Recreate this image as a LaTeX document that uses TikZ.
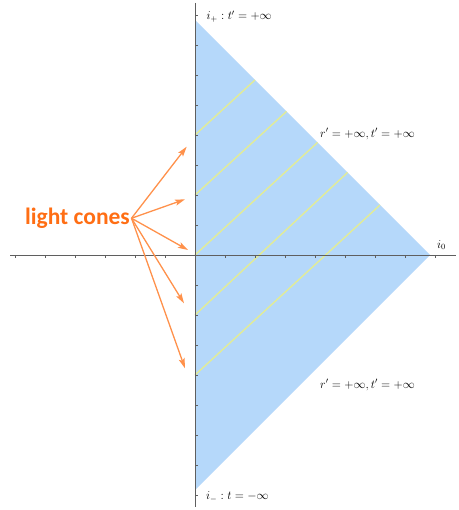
\documentclass[tikz,border=0pt]{standalone}
\usepackage{fontspec}
\newfontfamily\lcfont{Carlito}
\usetikzlibrary{arrows.meta}
\definecolor{cone}{RGB}{181,216,250}
\definecolor{ylw}{RGB}{226,236,150}
\definecolor{axisgray}{RGB}{95,95,95}
\definecolor{lcorange}{RGB}{255,110,20}
\definecolor{arrorange}{RGB}{255,145,75}
\begin{document}
\begin{tikzpicture}[x=1pt,y=-1pt,
  lbl/.style={inner sep=0pt, anchor=west, font=\fontsize{11.5}{14}\selectfont},
  ax/.style={draw=axisgray, line width=0.8pt},
  tk/.style={draw=axisgray, line width=0.6pt},
  yl/.style={draw=ylw, line width=1.4pt},
  lcarrow/.style={draw=arrorange, line width=1.3pt, -{Stealth[length=10pt,width=6pt,inset=2pt]}}]
\useasboundingbox (0,0) rectangle (458,510);
% Penrose triangle
\fill[cone] (195,20) -- (430,255) -- (195,490) -- cycle;
% constant-time lines
\draw[yl] (195,135) -- (255,80);
\draw[yl] (195,195) -- (286.5,111.5);
\draw[yl] (195,255) -- (317.5,142.5);
\draw[yl] (195,315) -- (347.5,172.5);
\draw[yl] (195,375) -- (380,205);
% axes
\draw[ax] (10,255) -- (456,255);
\draw[ax] (195,3) -- (195,507);
\foreach \x in {15,45,...,435} \draw[tk] (\x,255) -- (\x,257.5);
\foreach \y in {15,45,...,495} \draw[tk] (195,\y) -- (197.5,\y);
% labels
\node[lbl] (ip) at (206.5,16.5) {$i_+ : t' = +\infty$};
\node[lbl] (scri1) at (320,134) {$r' = +\infty, t' = +\infty$};
\node[lbl] (scri2) at (320,385) {$r' = +\infty, t' = +\infty$};
\node[lbl] (im) at (206,497) {$i_- : t = -\infty$};
\node[lbl] (i0) at (437,245) {$i_0$};
% light cones
\node[text=lcorange, font=\lcfont\bfseries\fontsize{23.5}{28}\selectfont, anchor=base east, inner sep=0pt] (lc) at (130,224.5) {light cones};
\coordinate (a1) at (186.7,146.7);
\coordinate (a2) at (185,199.3);
\coordinate (a3) at (188,250);
\coordinate (a4) at (184,303.3);
\coordinate (a5) at (185,368.3);
\foreach \t in {a1,a2,a3,a4,a5} \draw[lcarrow] ([xshift=1.5pt]lc.east) -- (\t);
\end{tikzpicture}
\end{document}
